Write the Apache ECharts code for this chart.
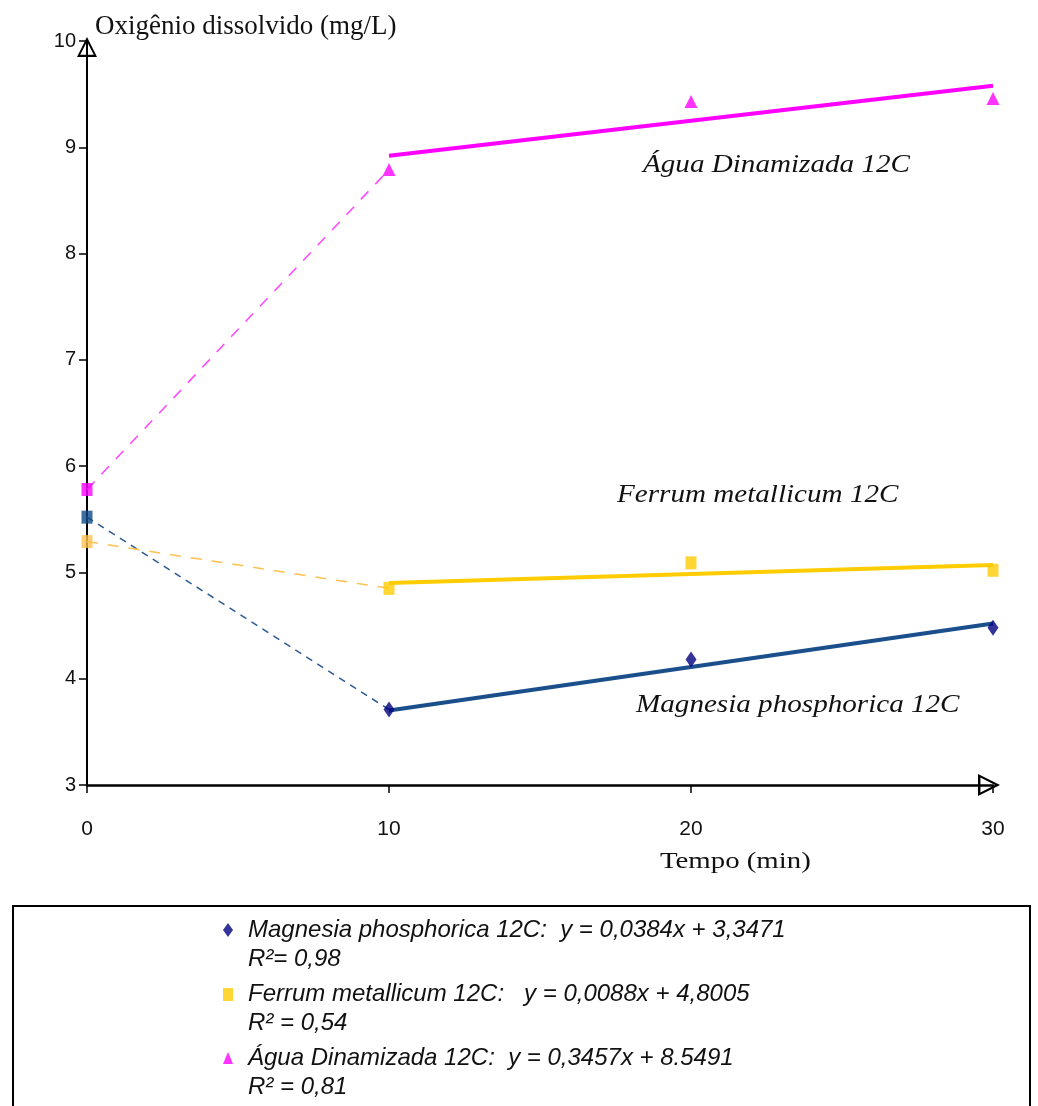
<!DOCTYPE html>
<html>
<head>
<meta charset="utf-8">
<script src="https://cdn.jsdelivr.net/npm/echarts@6/dist/echarts.min.js"></script>
<style>
  html, body { margin: 0; padding: 0; background: #fff; }
  #chart { width: 1038px; height: 1106px; }
</style>
</head>
<body>
<div id="chart"></div>
<script>
// tempo (min)
const timeMin = [0, 10, 20, 30];
// oxigenio dissolvido (mg/L) medido
const magnesiaPts = [5.52, 3.71, 4.18, 4.48];
const ferrumPts = [5.29, 4.85, 5.09, 5.02];
const aguaPts = [5.78, 8.79, 9.43, 9.46];
// linhas de tendencia (10 -> 30 min)
const trendX = [10, 30];
const magnesiaTrend = [3.70, 4.52];
const ferrumTrend = [4.90, 5.07];
const aguaTrend = [8.92, 9.58];

const xTicks = [0, 10, 20, 30];
const yTicks = [3, 4, 5, 6, 7, 8, 9, 10];

const names = ['Magnesia phosphorica 12C', 'Ferrum metallicum 12C', 'Água Dinamizada 12C'];
const legendText = {
    'Magnesia phosphorica 12C': 'Magnesia phosphorica 12C:  y = 0,0384x + 3,3471\nR²= 0,98',
    'Ferrum metallicum 12C': 'Ferrum metallicum 12C:   y = 0,0088x + 4,8005\nR² = 0,54',
    'Água Dinamizada 12C': 'Água Dinamizada 12C:  y = 0,3457x + 8.5491\nR² = 0,81'
};
// icones da legenda: forma no alto, espaco vazio embaixo (para ficar na 1a linha)
const legendIcons = [
    'path://M5,0 L10,7 L5,14 L0,7 Z M5,44',
    'path://M0,1 L10,1 L10,14 L0,14 Z M0,44 M10,0',
    'path://M5,1 L10,13 L0,13 Z M5,44 M0,0'
];

// seta "aberta" (triangulo vazado)
const openArrow = 'path://M0,0 L10,20 L-10,20 Z M0,4.5 L-6.8,17.8 L6.8,17.8 Z';

const pick = (xs, ys, from, to) => xs.slice(from, to).map((x, i) => [x, ys[from + i]]);

const chart = echarts.init(document.getElementById('chart'), null, {renderer: 'canvas'});

const annoFont = 'italic 26px "Liberation Serif", "Times New Roman", serif';

let option = {
    animation: false,
    backgroundColor: '#fff',
    grid: {left: 87, right: 45, top: 41, bottom: 321, containLabel: false},
    xAxis: {
        type: 'value',
        min: 0, max: 30, interval: 10,
        axisLine: {
            show: true,
            symbol: ['none', openArrow],
            symbolSize: [25, 22],
            symbolOffset: [0, -4],
            lineStyle: {color: '#000', width: 2.5}
        },
        axisTick: {show: true, length: 8, lineStyle: {color: '#000', width: 1.5}},
        axisLabel: {
            margin: 34,
            color: '#111',
            fontFamily: 'Liberation Sans, Arial',
            fontSize: 21,
            formatter: v => xTicks.indexOf(v) >= 0 ? String(v) : ''
        },
        splitLine: {show: false}
    },
    yAxis: {
        type: 'value',
        min: 3, max: 10, interval: 1,
        name: 'Oxigênio dissolvido (mg/L)',
        nameLocation: 'end',
        nameGap: 1,
        nameTextStyle: {
            fontFamily: 'Liberation Serif, Times New Roman, serif',
            fontSize: 27,
            color: '#111',
            align: 'left',
            padding: [0, 0, 0, 8]
        },
        axisLine: {
            show: true,
            symbol: ['none', openArrow],
            symbolSize: [20, 21],
            symbolOffset: [0, -6],
            lineStyle: {color: '#000', width: 2}
        },
        axisTick: {show: true, length: 8, lineStyle: {color: '#000', width: 1.5}},
        axisLabel: {
            margin: 11,
            color: '#111',
            fontFamily: 'Liberation Sans, Arial',
            fontSize: 20,
            formatter: v => yTicks.indexOf(v) >= 0 ? String(v) : ''
        },
        splitLine: {show: false}
    },
    legend: {
        data: names.map((n, i) => ({name: n, icon: legendIcons[i]})),
        orient: 'vertical',
        left: 223,
        top: 916,
        padding: 0,
        itemGap: 6,
        itemWidth: 10,
        itemHeight: 44,
        selectedMode: false,
        formatter: n => legendText[n],
        textStyle: {
            fontFamily: 'Liberation Sans, Arial',
            fontStyle: 'italic',
            fontSize: 24,
            color: '#111',
            lineHeight: 29,
            padding: [0, 0, 0, 10]
        }
    },
    graphic: [
        {
            type: 'rect', z: -1,
            shape: {x: 13, y: 906, width: 1017, height: 230},
            style: {fill: 'none', stroke: '#000', lineWidth: 2}
        },
        {
            type: 'text', x: 660, y: 862, scaleX: 1.2,
            style: {text: 'Tempo (min)', font: '24px "Liberation Serif", serif', fill: '#111', verticalAlign: 'middle'}
        },
        {
            type: 'text', x: 643, y: 165, scaleX: 1.12,
            style: {text: 'Água Dinamizada 12C', font: annoFont, fill: '#111', verticalAlign: 'middle'}
        },
        {
            type: 'text', x: 617, y: 495, scaleX: 1.12,
            style: {text: 'Ferrum metallicum 12C', font: annoFont, fill: '#111', verticalAlign: 'middle'}
        },
        {
            type: 'text', x: 636, y: 705, scaleX: 1.12,
            style: {text: 'Magnesia phosphorica 12C', font: annoFont, fill: '#111', verticalAlign: 'middle'}
        }
    ],
    series: [
        // tracejado 0 -> 10 min
        {
            type: 'line', name: 'mag-dash', data: pick(timeMin, magnesiaPts, 0, 2),
            showSymbol: false, silent: true, z: 2,
            lineStyle: {color: '#2b5b94', width: 1.5, type: [7, 6]}
        },
        {
            type: 'line', name: 'fer-dash', data: pick(timeMin, ferrumPts, 0, 2),
            showSymbol: false, silent: true, z: 2,
            lineStyle: {color: '#ffc04d', width: 1.5, type: [11, 10]}
        },
        {
            type: 'line', name: 'agua-dash', data: pick(timeMin, aguaPts, 0, 2),
            showSymbol: false, silent: true, z: 2,
            lineStyle: {color: '#ff44ff', width: 1.5, type: [11, 10]}
        },
        // tendencias
        {
            type: 'line', name: 'mag-trend', data: trendX.map((x, i) => [x, magnesiaTrend[i]]),
            showSymbol: false, silent: true, z: 3,
            lineStyle: {color: '#1b4f8c', width: 4}
        },
        {
            type: 'line', name: 'fer-trend', data: trendX.map((x, i) => [x, ferrumTrend[i]]),
            showSymbol: false, silent: true, z: 3,
            lineStyle: {color: '#ffcc00', width: 4}
        },
        {
            type: 'line', name: 'agua-trend', data: trendX.map((x, i) => [x, aguaTrend[i]]),
            showSymbol: false, silent: true, z: 3,
            lineStyle: {color: '#ff00ff', width: 4}
        },
        // pontos iniciais (quadrados)
        {
            type: 'scatter', name: 'inicio', z: 4, symbol: 'rect', symbolSize: [11, 13],
            data: [
                {value: [timeMin[0], aguaPts[0]], itemStyle: {color: '#ff00ff'}},
                {value: [timeMin[0], magnesiaPts[0]], itemStyle: {color: '#0d4a87'}},
                {value: [timeMin[0], ferrumPts[0]], itemStyle: {color: '#ffc04d'}}
            ]
        },
        // pontos medidos
        {
            type: 'scatter', name: names[0], z: 5, symbol: 'diamond', symbolSize: [11, 16],
            itemStyle: {color: '#000080'},
            data: pick(timeMin, magnesiaPts, 1, 4)
        },
        {
            type: 'scatter', name: names[1], z: 5, symbol: 'rect', symbolSize: [11, 13],
            itemStyle: {color: '#ffcc00'},
            data: pick(timeMin, ferrumPts, 1, 4)
        },
        {
            type: 'scatter', name: names[2], z: 5, symbol: 'triangle', symbolSize: [13, 13],
            itemStyle: {color: '#ff00ff'},
            data: pick(timeMin, aguaPts, 1, 4)
        }
    ]
};

chart.setOption(option);
</script>
</body>
</html>
